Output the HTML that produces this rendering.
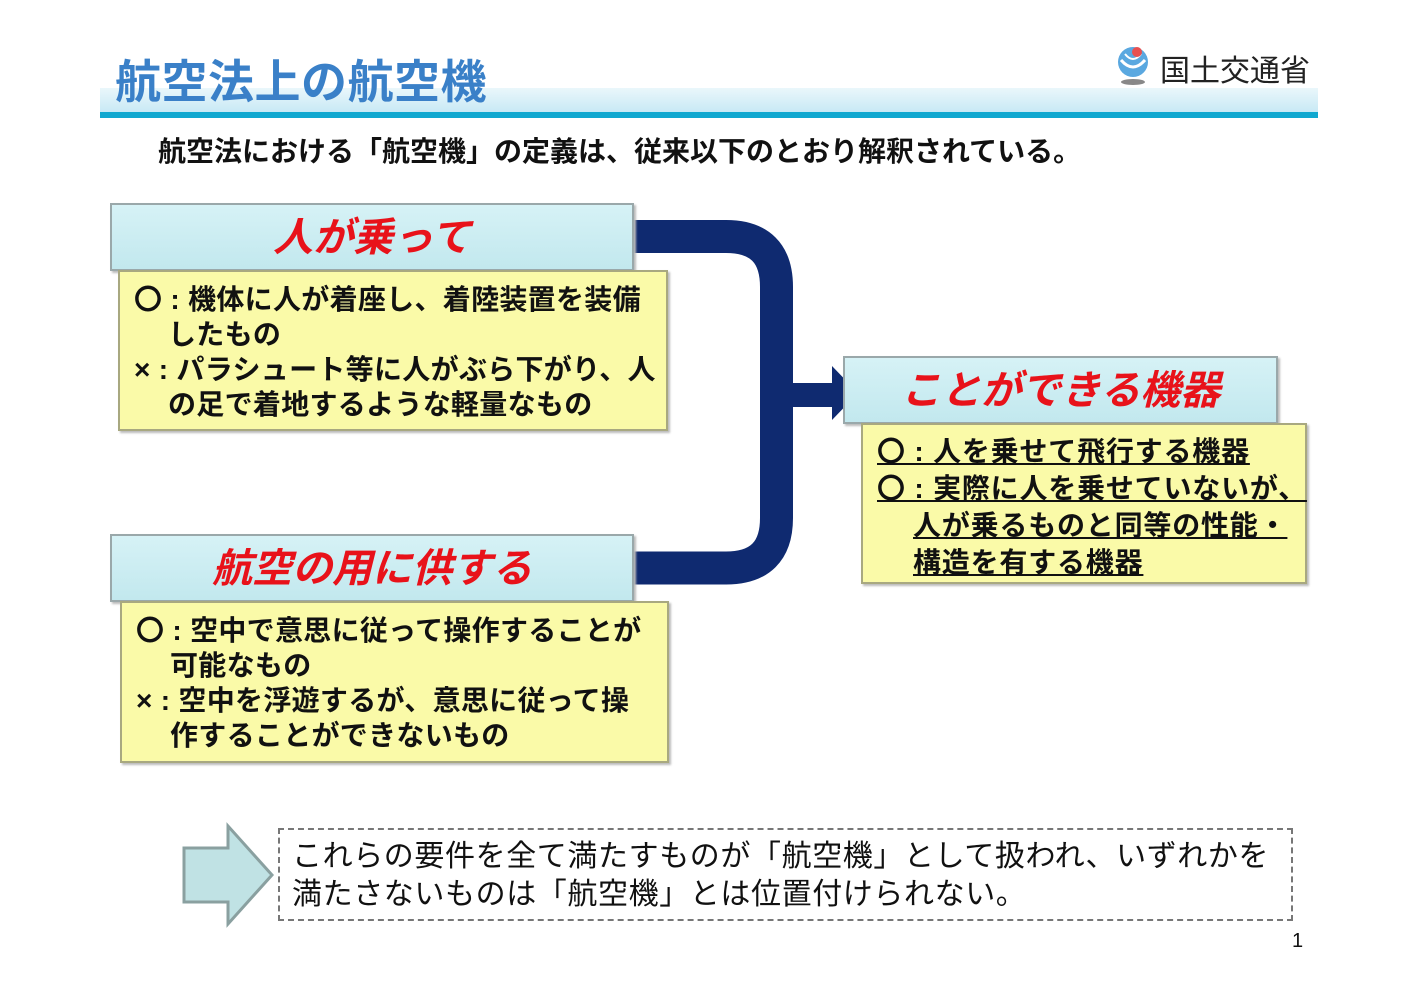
<!DOCTYPE html>
<html><head><meta charset="utf-8">
<style>
body{margin:0;width:1420px;height:1002px;background:#fff;position:relative;overflow:hidden;font-family:"Liberation Sans","Noto Sans CJK JP",sans-serif;}
.a{position:absolute;}
.hdr{position:absolute;background:linear-gradient(#d6f2f6,#c2e8ee);border:2px solid #9aa8aa;box-shadow:2px 2px 2px #bbb;box-sizing:border-box;color:#e8121a;font-style:italic;font-weight:bold;font-size:40px;text-align:center;}
.body{position:absolute;background:#fafaa8;border:2px solid #a8a880;box-shadow:2px 2px 2px #bbb;box-sizing:border-box;font-size:28px;font-weight:bold;color:#111;line-height:35px;white-space:nowrap;letter-spacing:0.3px;}
.i{padding-left:34px;}
</style></head><body>
<div class="a" style="left:100px;top:88px;width:1218px;height:24px;background:linear-gradient(#eaf7fb,#c8e9f5);"></div>
<div class="a" style="left:100px;top:112px;width:1218px;height:6px;background:#10a8d0;"></div>
<div class="a" style="left:115px;top:46px;font-size:46px;font-weight:bold;color:#3a80c8;letter-spacing:0.5px;">航空法上の航空機</div>
<svg class="a" style="left:1115px;top:44px" width="40" height="42"><circle cx="18" cy="18" r="15" fill="#5aa8e0"/><path d="M6 16 Q18 30 30 16" stroke="#fff" stroke-width="3" fill="none"/><path d="M10 10 Q18 20 26 10" stroke="#fff" stroke-width="2" fill="none"/><circle cx="22" cy="8" r="5" fill="#e85050"/><ellipse cx="18" cy="38" rx="12" ry="3" fill="#888"/></svg>
<div class="a" style="left:1160px;top:46px;font-size:30px;color:#222;">国土交通省</div>
<div class="a" style="left:158px;top:130px;font-size:28px;font-weight:bold;color:#111;">航空法における「航空機」の定義は、従来以下のとおり解釈されている。</div>

<svg class="a" style="left:0;top:0" width="1420" height="1002">
<path d="M630 236.5 H726 Q776.5 236.5 776.5 287 V518 Q776.5 568 726 568 H630" stroke="#0f2a70" stroke-width="33" fill="none"/>
<path d="M760 383 H832 V366 L858 393 L832 420 V407 H760 Z" fill="#0f2a70"/>
</svg>

<div class="hdr" style="left:110px;top:203px;width:524px;height:68px;line-height:66px;">人が乗って</div>
<div class="body" style="left:118px;top:270px;width:550px;height:161px;padding:10px 0 0 14px;">
<div>〇 : 機体に人が着座し、着陸装置を装備</div>
<div class="i">したもの</div>
<div>× : パラシュート等に人がぶら下がり、人</div>
<div class="i">の足で着地するような軽量なもの</div></div>

<div class="hdr" style="left:110px;top:534px;width:524px;height:68px;line-height:66px;">航空の用に供する</div>
<div class="body" style="left:120px;top:601px;width:549px;height:162px;padding:10px 0 0 14px;">
<div>〇 : 空中で意思に従って操作することが</div>
<div class="i">可能なもの</div>
<div>× : 空中を浮遊するが、意思に従って操</div>
<div class="i">作することができないもの</div></div>

<div class="hdr" style="left:843px;top:356px;width:435px;height:68px;line-height:66px;">ことができる機器</div>
<div class="body" style="left:861px;top:423px;width:446px;height:161px;padding:8px 0 0 14px;line-height:37px;text-decoration:underline;letter-spacing:0.8px;">
<div>〇 : 人を乗せて飛行する機器</div>
<div>〇 : 実際に人を乗せていないが、</div>
<div style="padding-left:36px">人が乗るものと同等の性能・</div>
<div style="padding-left:36px">構造を有する機器</div></div>

<svg class="a" style="left:180px;top:822px" width="96" height="106"><path d="M4 26 H48 V4 L92 53 L48 102 V80 H4 Z" fill="#c0e2e4" stroke="#8aa0a0" stroke-width="3"/></svg>
<div class="a" style="left:278px;top:828px;width:1015px;height:93px;border:2px dashed #777;box-sizing:border-box;font-size:30px;color:#111;line-height:38px;padding:8px 0 0 12px;letter-spacing:0.6px;white-space:nowrap;">これらの要件を全て満たすものが「航空機」として扱われ、いずれかを<br>満たさないものは「航空機」とは位置付けられない。</div>
<div class="a" style="left:1292px;top:930px;font-size:20px;color:#111;">1</div>
</body></html>
